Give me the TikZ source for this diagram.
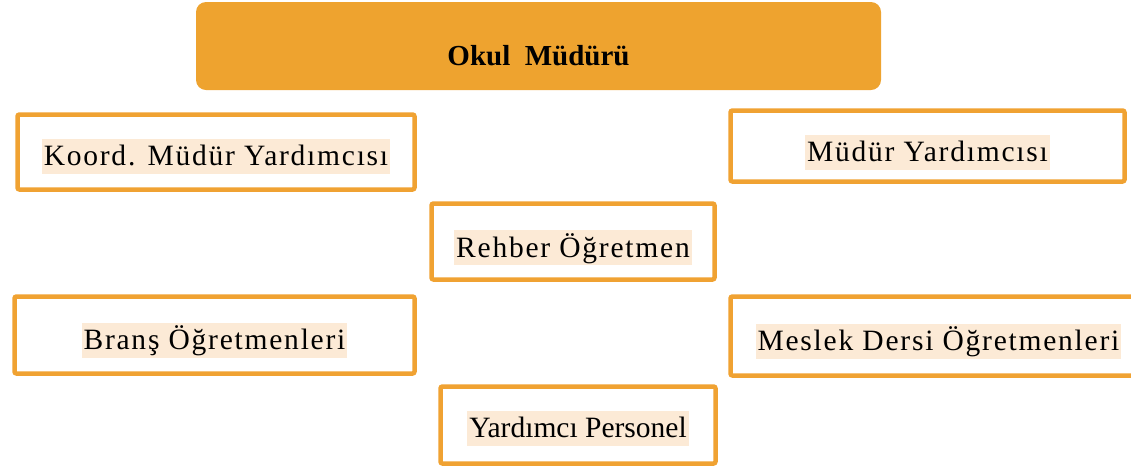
\documentclass[tikz,border=0pt]{standalone}
\usepackage{fontspec}
\setmainfont{Liberation Serif}
\newfontfamily\spacedserif[LetterSpace=6]{Liberation Serif}
\usepackage{tikz}
\usetikzlibrary{positioning, calc}
\usepackage{xcolor}
\definecolor{headorange}{HTML}{EEA32F}
\definecolor{boxorange}{HTML}{F0A232}
\definecolor{hlpeach}{HTML}{FCEAD6}
\tikzset{
  headbox/.style={rectangle, fill=headorange, draw=none, rounded corners=10pt,
                  minimum width=685pt, minimum height=88pt, inner sep=0pt},
  headtxt/.style={font=\fontsize{29}{32}\selectfont\bfseries, inner sep=0pt},
  orgbox/.style={rectangle, draw=boxorange, line width=4.5pt, rounded corners=2pt,
                 fill=white, inner sep=0pt},
  hltxt/.style={fill=hlpeach, inner xsep=2pt, inner ysep=0pt,
                text height=27pt, text depth=8pt,
                font=\spacedserif\fontsize{29.5}{32}\selectfont},
  hltxtplain/.style={hltxt, font=\fontsize{29.5}{32}\selectfont},
}
\begin{document}
\begin{tikzpicture}[x=1pt, y=-1pt]
  \useasboundingbox (0,0) rectangle (1131,467);

  % --- Head (top) ---
  \node[headbox] (mudur) at (538.5, 46) {};
  \node[headtxt, anchor=base] (mudurtxt) at ([yshift=-19pt]mudur.center)
       {Okul\ \ Müdürü};

  % --- Left column ---
  \node[orgbox, minimum width=397pt, minimum height=75pt] (koord) at (216, 152) {};
  \node[hltxt] (koordtxt) at ([yshift=-4pt]koord.center) {Koord. Müdür Yardımcısı};

  \node[orgbox, minimum width=400pt, minimum height=77pt] (brans) at (214.5, 335) {};
  \node[hltxt] (branstxt) at ([yshift=-5pt]brans.center) {Branş Öğretmenleri};

  % --- Middle column ---
  \node[orgbox, minimum width=283pt, minimum height=76pt] (rehber) at (573, 241.5) {};
  \node[hltxt] (rehbertxt) at ([yshift=-6pt]rehber.center) {Rehber Öğretmen};

  \node[orgbox, minimum width=275pt, minimum height=77pt] (yrdpers) at (578, 425) {};
  \node[hltxtplain] (yrdperstxt) at ([yshift=-3pt]yrdpers.center) {Yardımcı Personel};

  % --- Right column ---
  \node[orgbox, minimum width=394pt, minimum height=71pt] (mudyrd) at (927.5, 146) {};
  \node[hltxt] (mudyrdtxt) at ([yshift=-6pt]mudyrd.center) {Müdür Yardımcısı};

  \node[orgbox, minimum width=416pt, minimum height=79pt] (meslek) at (938.5, 336) {};
  \node[hltxt] (meslektxt) at ([yshift=-5pt]meslek.center) {Meslek Dersi Öğretmenleri};

\end{tikzpicture}
\end{document}
